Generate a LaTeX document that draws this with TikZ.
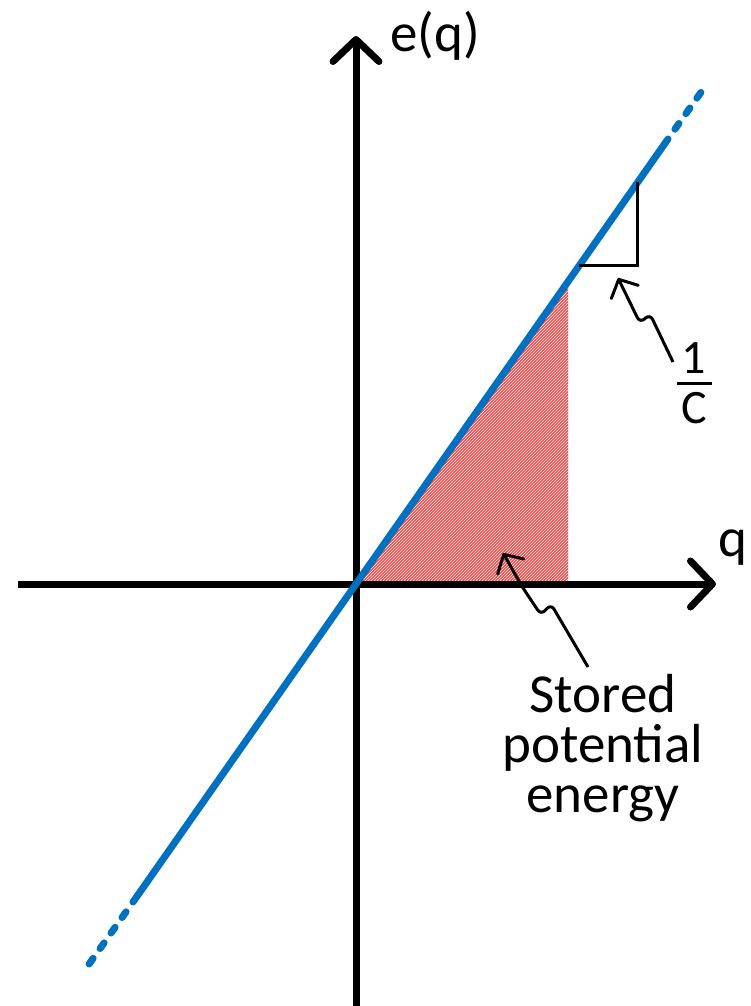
\documentclass[tikz,border=0pt]{standalone}
\usepackage{fontspec}
\setmainfont{Carlito}
\usetikzlibrary{arrows.meta,patterns}
\definecolor{lineblue}{RGB}{0,112,192}
\definecolor{hatchred}{RGB}{250,70,70}

\begin{document}
\begin{tikzpicture}[x=1pt,y=-1pt,
  axis/.style={line width=7pt, -{Straight Barb[length=22pt,width=46pt,line cap=round,line join=round]}},
  curve/.style={line width=7pt, draw=lineblue, line cap=round},
  squig/.style={line width=3pt, rounded corners=6pt, -{Straight Barb[length=14pt,width=30pt,line cap=round,line join=round]}},
  every node/.style={font=\fontsize{55}{50}\selectfont, inner sep=0pt}]
  \useasboundingbox (0,0) rectangle (750,1006);
  \coordinate (o) at (356,584);
  \coordinate (qend) at (568,584);
  \coordinate (etop) at (568,280);
  % stored energy area
  \fill[hatchred] (o) -- (qend) -- (etop) -- cycle;
  \fill[pattern=north east lines, pattern color=white] (o) -- (qend) -- (etop) -- cycle;
  % axes
  \draw[axis] (356,1006) -- (356,36);
  \draw[axis] (18,584) -- (716,584);
  \node[anchor=base west] (elabel) at (390,52) {e(q)};
  \node[anchor=base west] (qlabel) at (718,556) {q};
  % e = q/C
  \coordinate (lo) at (133,902);
  \coordinate (hi) at (668,139);
  \draw[curve] (lo) -- (hi);
  \draw[curve, dash pattern=on 7pt off 12pt, dash phase=7pt] (hi) -- (704,88);
  \draw[curve, dash pattern=on 7pt off 12pt, dash phase=7pt] (lo) -- (87,967);
  % slope
  \coordinate (run) at (579,265);
  \coordinate (corner) at (637,265);
  \coordinate (rise) at (637,182);
  \draw[line width=3pt] (run) -- (corner) -- (rise);
  \node[anchor=base, font=\fontsize{48}{50}\selectfont] (one) at (694,373) {1};
  \node[anchor=base, font=\fontsize{48}{50}\selectfont] (cee) at (694,423) {C};
  \draw[line width=3pt] (677,383) -- (712,383);
  \coordinate (tailA) at (673,362);
  \draw[squig] (tailA) -- (650,314) -- (640,323) -- (618,278);
  % label
  \node[align=center] (stored) at (603,748) {Stored\\potential\\energy};
  \coordinate (tailB) at (588,667);
  \draw[squig] (tailB) -- (551,604) -- (541,615) -- (523,588) -- (503,553);
\end{tikzpicture}
\end{document}
